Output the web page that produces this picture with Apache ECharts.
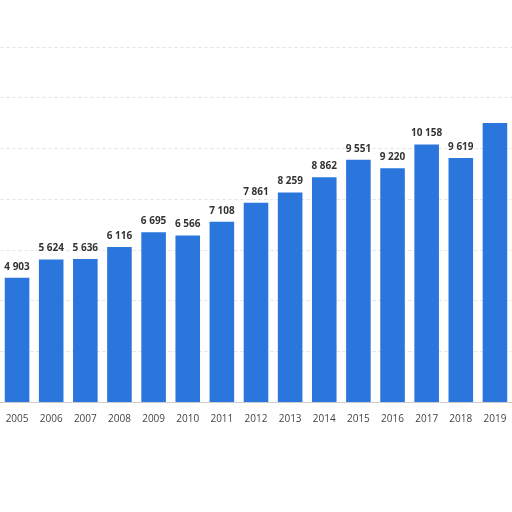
<!DOCTYPE html><html><head><meta charset="utf-8"><script src="https://cdn.jsdelivr.net/npm/echarts@6/dist/echarts.min.js"></script></head><body style="margin:0"><div id="c" style="width:512px;height:512px"></div><script>
const years=['2005','2006','2007','2008','2009','2010','2011','2012','2013','2014','2015','2016','2017','2018','2019'];
const values=[4903,5624,5636,6116,6695,6566,7108,7861,8259,8862,9551,9220,10158,9619,11000];
const fmt=v=>String(v).replace(/\B(?=(\d{3})+(?!\d))/g,' ');
const ch=echarts.init(document.getElementById('c'));
ch.setOption({backgroundColor:'#fff',animation:false,
grid:{left:-1,width:523,top:47,height:355},
xAxis:{type:'category',data:years,axisTick:{show:false},axisLine:{lineStyle:{color:'#ccc'}},axisLabel:{color:'#444',fontSize:10,fontFamily:'Open Sans',margin:12}},
yAxis:{type:'value',min:0,max:14000,interval:2000,axisLabel:{show:false},splitLine:{lineStyle:{color:'#e8e8e8',type:'dashed'}}},
series:[{type:'bar',data:values,barWidth:'72%',itemStyle:{color:'#2a76dd'},label:{show:true,position:'top',formatter:p=>p.dataIndex==14?'':fmt(p.value),color:'#333',fontWeight:'bold',fontSize:10,fontFamily:'Open Sans',distance:6}}]});
</script></body></html>
